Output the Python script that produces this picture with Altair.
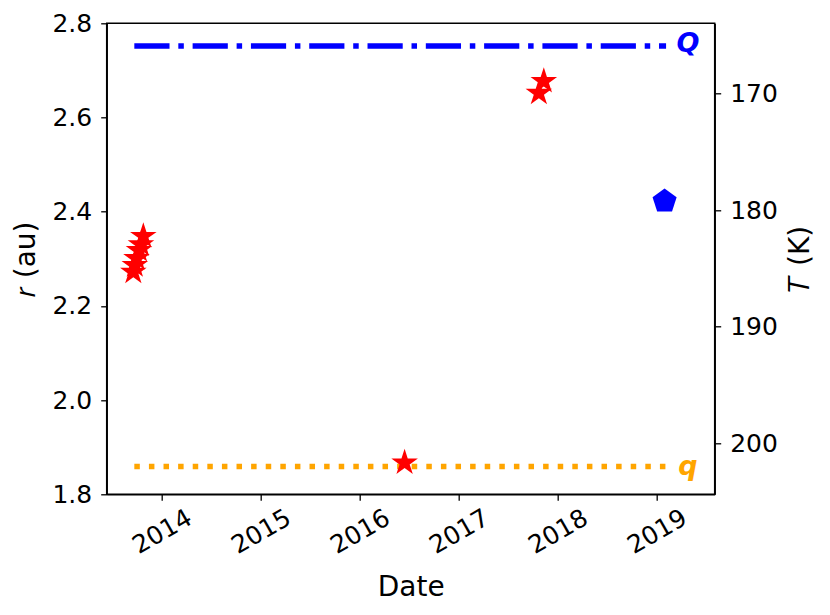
import altair as alt
import pandas as pd

# ---- data ----
star_year = [2013.713, 2013.728, 2013.745, 2013.770, 2013.790, 2013.814,
             2016.453, 2017.809, 2017.859]
star_r = [2.272, 2.286, 2.301, 2.318, 2.330, 2.348,
          1.867, 2.652, 2.677]

pent_year = [2019.079]
pent_T = [179.25]

line_name = ["Q", "q"]
line_r = [2.752, 1.859]
line_start = [2013.723, 2013.723]
line_end = [2019.094, 2019.094]
label_year = [2019.315, 2019.315]
label_r = [2.756, 1.859]

r_ticks = [1.8, 2.0, 2.2, 2.4, 2.6, 2.8]
T_ticks = [170, 180, 190, 200]
year_ticks = [2014, 2015, 2016, 2017, 2018, 2019]

FONT = "DejaVu Sans"
W, H = 608, 471

stars = pd.DataFrame({"year": star_year, "r": star_r})
pent = pd.DataFrame({"year": pent_year, "T": pent_T})
lines = pd.DataFrame({"name": line_name, "r": line_r,
                      "year": line_start, "year2": line_end})
labels = pd.DataFrame({"name": line_name, "r": label_r, "year": label_year})

STAR = ("M0,-1L-0.2245,-0.309L-0.9511,-0.309L-0.3633,0.118L-0.5878,0.809"
        "L0,0.382L0.5878,0.809L0.3633,0.118L0.9511,-0.309L0.2245,-0.309Z")
PENT = "M0,-1L-0.9511,-0.309L-0.5878,0.809L0.5878,0.809L0.9511,-0.309Z"

common_axis = dict(grid=False, tickSize=6, tickColor="black", tickWidth=1.3,
                   domainColor="black", domainWidth=1.5,
                   labelFont=FONT, titleFont=FONT, labelFontSize=25,
                   titleFontSize=28, labelColor="black", titleColor="black",
                   titleFontWeight="normal", labelFlush=False)

x_scale = alt.Scale(domain=[2013.444, 2019.585], nice=False, zero=False)
x_axis = alt.Axis(values=year_ticks, format="d", title="Date",
                  labelAngle=330, labelAlign="center", labelBaseline="middle",
                  labelPadding=31, labelOverlap=False,
                  titleX=W / 2, titleY=101, titleAlign="center",
                  titleBaseline="alphabetic", **common_axis)
x_enc = alt.X("year:Q", scale=x_scale, axis=x_axis)

r_scale = alt.Scale(domain=[1.8, 2.8], nice=False, zero=False)
r_axis = alt.Axis(values=r_ticks, format=".1f", title="𝑟 (au)", orient="left",
                  labelPadding=9,
                  titleAngle=270, titleX=-72, titleY=H / 2,
                  titleAlign="center", titleBaseline="alphabetic",
                  **common_axis)
y_r = alt.Y("r:Q", scale=r_scale, axis=r_axis)

T_scale = alt.Scale(domain=[164.0, 204.36], nice=False, zero=False, reverse=True)
T_axis = alt.Axis(values=T_ticks, format="d", title="𝑇 (K)", orient="right",
                  labelPadding=9,
                  titleAngle=270, titleX=93.7, titleY=H / 2,
                  titleAlign="center", titleBaseline="alphabetic",
                  **common_axis)

base = alt.Chart(lines)
rule_Q = base.transform_filter(alt.datum.name == "Q").mark_rule(
    color="#0000ff", strokeWidth=5.5, strokeDash=[35.2, 8.8, 5.5, 8.8],
    strokeCap="butt").encode(x=x_enc, x2="year2:Q", y=y_r)
rule_q = base.transform_filter(alt.datum.name == "q").mark_rule(
    color="#ffa500", strokeWidth=5.5, strokeDash=[5.5, 9.1],
    strokeCap="butt").encode(x=x_enc, x2="year2:Q", y=y_r)

text_layer = alt.Chart(labels).mark_text(
    font=FONT, fontSize=27, fontWeight="bold", fontStyle="italic",
    align="center", baseline="middle").encode(
    x=x_enc, y=y_r, text="name:N",
    color=alt.Color("name:N", scale=alt.Scale(domain=["Q", "q"],
                                              range=["#0000ff", "#ffa500"]),
                    legend=None))

star_layer = alt.Chart(stars).mark_point(
    shape=STAR, filled=True, color="#ff0000", size=780, opacity=1,
    strokeWidth=0).encode(x=x_enc, y=y_r)

left = alt.layer(rule_Q, rule_q, star_layer, text_layer)

right = alt.Chart(pent).mark_point(
    shape=PENT, filled=True, color="#0000ff", size=640, opacity=1,
    strokeWidth=0).encode(x=x_enc, y=alt.Y("T:Q", scale=T_scale, axis=T_axis))

chart = alt.layer(left, right).resolve_scale(y="independent").properties(
    width=W, height=H,
    autosize=alt.AutoSizeParams(type="none"),
    padding={"left": 98.7, "top": 15.3, "right": 107, "bottom": 113},
    background="white",
).configure_view(stroke="black", strokeWidth=1.5)

chart.save("out.html", embed_options={"renderer": "svg", "actions": False})
